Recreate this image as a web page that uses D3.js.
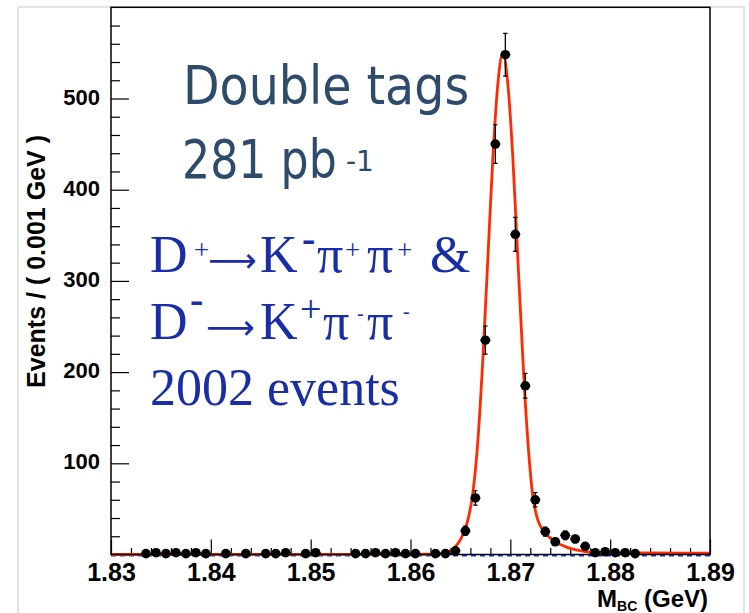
<!DOCTYPE html>
<html>
<head>
<meta charset="utf-8">
<script src="https://cdn.jsdelivr.net/npm/d3@7"></script>
<style>
  body { margin: 0; background: #ffffff; }
  svg { display: block; }
</style>
</head>
<body>
<svg id="chart" width="749" height="613"></svg>
<script>
// Bin centres (GeV) of filled 1 MeV bins and their event counts
const binMass = [
  1.8335, 1.8345, 1.8355, 1.8365, 1.8375, 1.8385, 1.8395, 1.8415, 1.8435,
  1.8455, 1.8465, 1.8475, 1.8495, 1.8505,
  1.8545, 1.8555, 1.8565, 1.8575, 1.8585, 1.8595, 1.8605,
  1.8625, 1.8635, 1.8645, 1.8655, 1.8665, 1.8675, 1.8685, 1.8695, 1.8705,
  1.8715, 1.8725, 1.8735, 1.8745, 1.8755, 1.8765, 1.8775, 1.8785, 1.8795,
  1.8805, 1.8815, 1.8825
];
const binCount = [
  1, 2, 1, 2, 1, 2, 1, 1, 1,
  1, 1, 2, 1, 2,
  1, 1, 2, 1, 2, 1, 1,
  1, 1, 4, 26, 62, 235, 450, 548, 351,
  185, 60, 25, 14, 21, 17, 9, 2, 3,
  2, 2, 1
];

// Fitted total PDF (signal + background), sampled
const fitMass = [
  1.830, 1.858, 1.862, 1.86325, 1.86375, 1.86425, 1.86475, 1.86525, 1.86575,
  1.86625, 1.86675, 1.86725, 1.86775, 1.86825, 1.86875, 1.86925, 1.86975,
  1.87025, 1.87075, 1.87125, 1.87175, 1.87225, 1.87275, 1.87325, 1.87375,
  1.87425, 1.87475, 1.87525, 1.87575, 1.87625, 1.87675, 1.87725, 1.87775,
  1.87925, 1.88125, 1.88425, 1.890
];
const fitValue = [
  0, 0.1, 0.5, 1.5, 3, 6, 12, 22, 38,
  68, 125, 215, 325, 435, 516, 550, 516,
  435, 325, 215, 125, 64, 38, 27, 20.5,
  16, 12.5, 9.8, 7.6, 6, 4.8, 3.6, 2.8,
  2.2, 1.9, 1.7, 1.5
];

// Background component
const bkgMass = [1.830, 1.890];
const bkgValue = [0, 0];

// Axis ticks
const xMajorTicks = [1.83, 1.84, 1.85, 1.86, 1.87, 1.88, 1.89];
const xTickLabels = ["1.83", "1.84", "1.85", "1.86", "1.87", "1.88", "1.89"];
const yMajorTicks = [100, 200, 300, 400, 500];
const yTickLabels = ["100", "200", "300", "400", "500"];

const binWidth = 0.001;

const svg = d3.select("#chart");
const frameL = 111, frameR = 710, frameT = 7.3, frameB = 554.5;

const x = d3.scaleLinear().domain([1.83, 1.89]).range([frameL, frameR]);
const y = d3.scaleLinear().domain([0, 600]).range([frameB, frameT]);

// canvas pad border
svg.append("path")
  .attr("d", "M18,613 V7 H744 V613")
  .attr("fill", "none").attr("stroke", "#dcdcdc").attr("stroke-width", 1.5);

// minor ticks
const xMinor = d3.range(1.832, 1.8891, 0.002).filter(v => Math.abs(Math.round(v * 100) - v * 100) > 1e-6);
const yMinor = d3.range(20, 600, 20).filter(v => v % 100 !== 0);

const gx = svg.append("g").attr("transform", `translate(0,${frameB})`);
gx.call(d3.axisBottom(x).tickValues(xMinor).tickSize(-6.5).tickFormat(""));
const gxMaj = svg.append("g").attr("transform", `translate(0,${frameB})`);
gxMaj.call(d3.axisBottom(x).tickValues(xMajorTicks).tickSize(-15)
  .tickFormat((d, i) => xTickLabels[i]).tickPadding(0));

const gy = svg.append("g").attr("transform", `translate(${frameL},0)`);
gy.call(d3.axisLeft(y).tickValues(yMinor).tickSize(-9).tickFormat(""));
const gyMaj = svg.append("g").attr("transform", `translate(${frameL},0)`);
gyMaj.call(d3.axisLeft(y).tickValues(yMajorTicks).tickSize(-18)
  .tickFormat((d, i) => yTickLabels[i]).tickPadding(11));

svg.selectAll(".domain").remove();
svg.selectAll(".tick line").attr("stroke", "#000").attr("stroke-width", 1.2);

gxMaj.selectAll("text")
  .attr("y", 26).attr("dy", null)
  .attr("font-family", "'Liberation Sans', Arial, sans-serif")
  .attr("font-weight", "bold").attr("font-size", 25).attr("fill", "#000");
gyMaj.selectAll("text")
  .attr("dy", 5.5)
  .attr("font-family", "'Liberation Sans', Arial, sans-serif")
  .attr("font-weight", "bold").attr("font-size", 22).attr("fill", "#000");

// background (dashed blue)
const bkgLine = d3.line().x(d => x(d[0])).y(d => y(d[1]));
svg.append("path")
  .datum(bkgMass.map((m, i) => [m, bkgValue[i]]))
  .attr("d", bkgLine)
  .attr("fill", "none").attr("stroke", "#1030ff").attr("stroke-width", 2)
  .attr("stroke-dasharray", "5,4")
  .attr("transform", "translate(0,1)");

// total fit (red)
const fitLine = d3.line().x(d => x(d[0])).y(d => y(d[1])).curve(d3.curveMonotoneX);
svg.append("path")
  .datum(fitMass.map((m, i) => [m, fitValue[i]]))
  .attr("d", fitLine)
  .attr("fill", "none").attr("stroke", "#ff2a00").attr("stroke-width", 2.8)
  .attr("stroke-linejoin", "round");

// data points with errors
const pts = binMass.map((m, i) => ({ m, n: binCount[i], e: Math.sqrt(binCount[i]) }));
const gd = svg.append("g");
gd.selectAll("line.xerr").data(pts).join("line").attr("class", "xerr")
  .attr("x1", d => x(d.m - binWidth / 2)).attr("x2", d => x(d.m + binWidth / 2))
  .attr("y1", d => y(d.n)).attr("y2", d => y(d.n))
  .attr("stroke", "#000").attr("stroke-width", 1.3);
gd.selectAll("line.yerr").data(pts).join("line").attr("class", "yerr")
  .attr("x1", d => x(d.m)).attr("x2", d => x(d.m))
  .attr("y1", d => y(d.n - d.e)).attr("y2", d => y(d.n + d.e))
  .attr("stroke", "#000").attr("stroke-width", 1.3);
gd.selectAll("path.cap").data(pts).join("path").attr("class", "cap")
  .attr("d", d => `M${x(d.m) - 2.2},${y(d.n + d.e)}h4.4M${x(d.m) - 2.2},${y(d.n - d.e)}h4.4`)
  .attr("stroke", "#000").attr("stroke-width", 1.2);
gd.selectAll("circle").data(pts).join("circle")
  .attr("cx", d => x(d.m)).attr("cy", d => y(d.n)).attr("r", 4.8)
  .attr("fill", "#000");

// frame
svg.append("rect")
  .attr("x", frameL).attr("y", frameT).attr("width", frameR - frameL).attr("height", frameB - frameT)
  .attr("fill", "none").attr("stroke", "#000").attr("stroke-width", 1.5);

// axis titles
svg.append("text")
  .attr("transform", "translate(45,135) rotate(-90)")
  .attr("text-anchor", "end")
  .attr("font-family", "'Liberation Sans', Arial, sans-serif")
  .attr("font-weight", "bold").attr("font-size", 25)
  .text("Events / ( 0.001 GeV )");

const xt = svg.append("text")
  .attr("x", 708).attr("y", 607).attr("text-anchor", "end")
  .attr("font-family", "'Liberation Sans', Arial, sans-serif")
  .attr("font-weight", "bold").attr("font-size", 24);
xt.append("tspan").text("M");
xt.append("tspan").attr("font-size", 14).attr("dy", 4).text("BC");
xt.append("tspan").attr("dy", -4).text(" (GeV)");

// annotation: sample
const slate = "#2e4b6b";
svg.append("text")
  .attr("transform", "translate(183,104) scale(0.88,1)")
  .attr("font-family", "'DejaVu Sans', sans-serif").attr("font-size", 54)
  .attr("fill", slate).text("Double tags");
svg.append("text")
  .attr("transform", "translate(182,178) scale(0.82,1)")
  .attr("font-family", "'DejaVu Sans', sans-serif").attr("font-size", 54)
  .attr("fill", slate).text("281 pb");
svg.append("text")
  .attr("x", 346).attr("y", 171)
  .attr("font-family", "'DejaVu Sans', sans-serif").attr("font-size", 28)
  .attr("fill", slate).text("-1");

// annotation: decay modes, one text per line with positioned pieces
const blue = "#1a2da8";
const decayLines = [
  [
    { t: "D", x: 150, y: 272, s: 52 },
    { t: "+", x: 194, y: 259, s: 27 },
    { t: "\u27F6", x: 208, y: 272, s: 34, f: "'DejaVu Sans', sans-serif" },
    { t: "K", x: 260, y: 272, s: 52 },
    { t: "-", x: 302, y: 252, s: 40, b: true },
    { t: "\u03C0", x: 317, y: 272, s: 52 },
    { t: "+", x: 345, y: 259, s: 27 },
    { t: "\u03C0", x: 367, y: 272, s: 52 },
    { t: "+", x: 397, y: 259, s: 27 },
    { t: "&", x: 430, y: 272, s: 52 }
  ],
  [
    { t: "D", x: 150, y: 339, s: 52 },
    { t: "-", x: 190, y: 313, s: 40, b: true },
    { t: "\u27F6", x: 206, y: 339, s: 34, f: "'DejaVu Sans', sans-serif" },
    { t: "K", x: 260, y: 339, s: 52 },
    { t: "+", x: 300, y: 322, s: 38 },
    { t: "\u03C0", x: 323, y: 339, s: 52 },
    { t: "-", x: 357, y: 320, s: 20 },
    { t: "\u03C0", x: 367, y: 339, s: 52 },
    { t: "-", x: 403, y: 318, s: 20 }
  ],
  [
    { t: "2002 events", x: 150, y: 405, s: 52 }
  ]
];
const decayG = svg.append("g")
  .attr("font-family", "'Liberation Serif', 'Times New Roman', serif")
  .attr("fill", blue);
decayLines.forEach(line => {
  const tx = decayG.append("text");
  line.forEach(p => {
    const ts = tx.append("tspan")
      .attr("x", p.x).attr("y", p.y)
      .attr("font-size", p.s)
      .attr("font-weight", p.b ? "bold" : "normal")
      .text(p.t);
    if (p.f) ts.attr("font-family", p.f);
  });
});
</script>
</body>
</html>
